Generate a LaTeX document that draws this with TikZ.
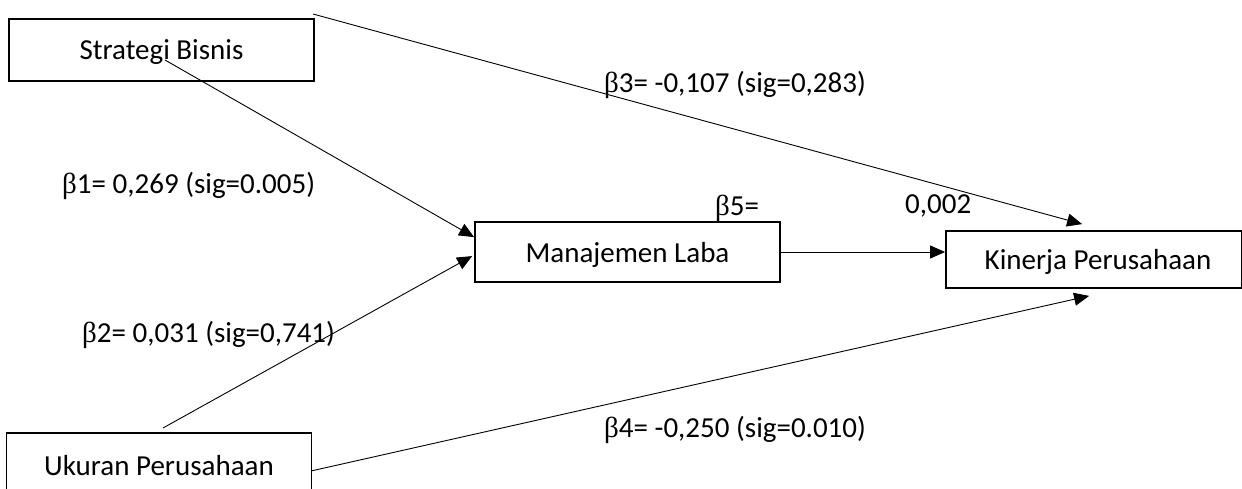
\documentclass[tikz,border=0pt]{standalone}
\usepackage{fontspec}
\setmainfont{Carlito}
\newfontfamily\betafont{Liberation Serif}
\usetikzlibrary{arrows.meta,calc}
\begin{document}
\begin{tikzpicture}[x=1pt,y=-1pt,
  box/.style={draw,line width=1.8pt,inner sep=0pt,text depth=0pt,font=\fontsize{29}{34}\selectfont},
  conn/.style={line width=0.9pt,-{Triangle[length=15pt,width=13pt]}},
  lbl/.style={anchor=base west,inner sep=0pt,font=\fontsize{29}{34}\selectfont}]
\clip (0,0) rectangle (1242,489);
\fill[white] (0,0) rectangle (1242,489);
\node[box,minimum width=305pt,minimum height=62pt] (sb) at (161.5,50) {Strategi Bisnis};
\node[box,minimum width=305pt,minimum height=64pt] (up) at (159,465) {Ukuran Perusahaan};
\node[box,minimum width=305pt,minimum height=60pt] (ml) at (627.5,252) {Manajemen Laba};
\node[box,minimum width=296pt,minimum height=57pt] (kp) at (1094,259.5) {\hspace*{8pt}Kinerja Perusahaan};
\coordinate (a1) at (165,60);
\coordinate (a2) at (163,428);
\coordinate (a3) at (313,14);
\coordinate (a4) at (311,471);
\coordinate (t1) at ($(ml.north west)+(0,16)$);
\coordinate (t2) at ($(ml.north west)+(-2,35)$);
\coordinate (t3) at ($(kp.north west)+(137,-6)$);
\coordinate (t4) at ($(kp.south west)+(144,7)$);
\draw[conn] (a1) -- (t1);
\draw[conn] (a2) -- (t2);
\draw[conn] (a3) -- (t3);
\draw[conn] (a4) -- (t4);
\draw[conn] (ml.east) -- (ml.east -| kp.west);
\node[lbl] (l3) at (604,93) {{\betafont β}3= -0,107 (sig=0,283)};
\node[lbl] (l1) at (62,194) {{\betafont β}1= 0,269 (sig=0.005)};
\node[lbl] (l5) at (715,215) {{\betafont β}5=};
\node[lbl] (l5b) at (905,214) {0,002};
\node[lbl] (l2) at (82,342) {{\betafont β}2= 0,031 (sig=0,741)};
\node[lbl] (l4) at (604,437) {{\betafont β}4= -0,250 (sig=0.010)};
\end{tikzpicture}
\end{document}
